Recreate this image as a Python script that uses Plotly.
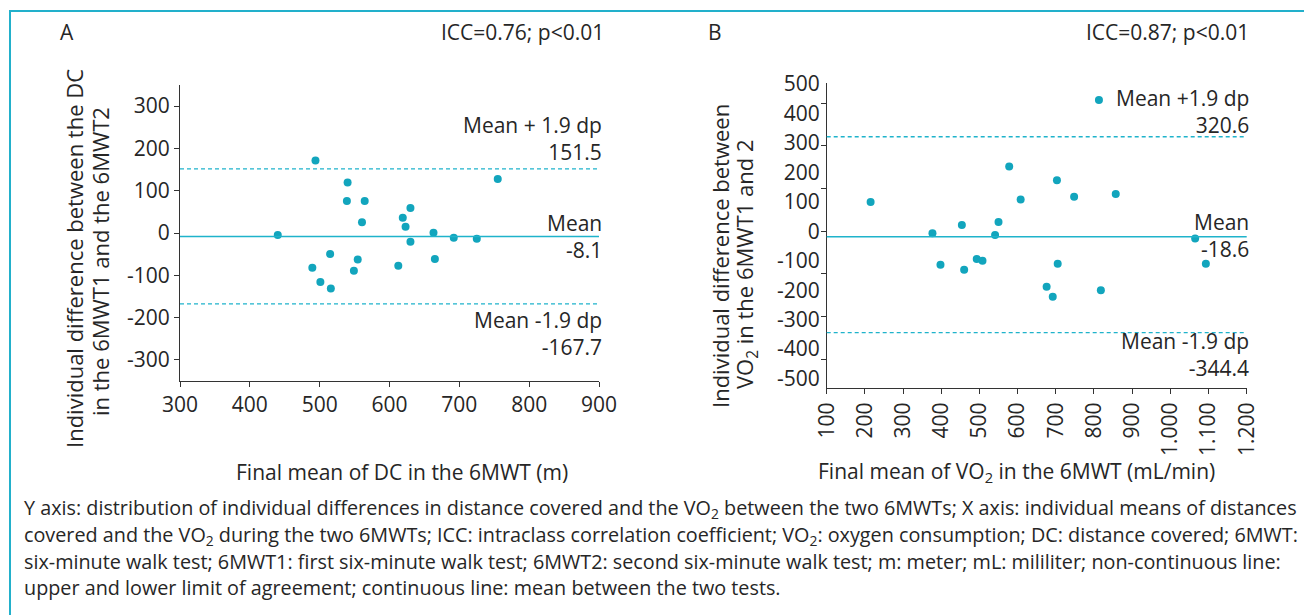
import plotly.graph_objects as go

W, H = 1312, 615
OFF = 8  # page body margin offset of the rendered figure
def px(x): return (x - OFF) / W
def py(y): return 1 - (y - OFF) / H

# ---------------- Data ----------------
# Panel A: distance covered (DC)
dc_mean = [494, 755, 540, 539, 564.5, 630, 619, 623, 560.6, 440, 663, 692, 725, 630,
           515, 554.5, 612.6, 665, 549, 489.5, 501, 516]
dc_diff = [171.5, 127.7, 119.7, 75.8, 75.8, 59.4, 35.8, 14.6, 25.5, -5, 0.4, -11.4, -13.7, -20.8,
           -49.8, -62.4, -77.3, -61.6, -89, -82, -115.8, -131.5]
dc_bias = -8.1
dc_upper = 151.5
dc_lower = -167.7

# Panel B: VO2
vo2_mean = [813, 215, 578, 703, 608, 748, 857, 454, 550, 377, 541, 1065, 398, 460,
            493, 508, 705, 1093, 676, 692, 818]
vo2_diff = [445, 99, 220, 173, 108, 117, 126, 21, 31, -7, -13, -25, -114, -131,
            -94, -100, -110, -110, -188, -222, -200]
vo2_bias = -18.6
vo2_upper = 320.6
vo2_lower = -344.4

a_xticks = [300, 400, 500, 600, 700, 800, 900]
a_yticks = [-300, -200, -100, 0, 100, 200, 300]
a_yticklabels = ["-300", "-200", "-100", "0", "100", "200", "300"]
b_xticks = [100, 200, 300, 400, 500, 600, 700, 800, 900, 1000, 1100, 1200]
b_xticklabels = ["100", "200", "300", "400", "500", "600", "700", "800", "900",
                 "1.000", "1.100", "1.200"]
b_yticks = [-500, -400, -300, -200, -100, 0, 100, 200, 300, 400, 500]
b_yticklabels = ["-500", "-400", "-300", "-200", "-100", "0", "100", "200", "300", "400", "500"]

# ---------------- Style ----------------
PT = "#12a5bd"
LN = "#1fb3cb"
TXT = "#262626"
AX = "#333333"
FONT = "Open Sans"
TICKFONT = dict(family=FONT, size=21, color=TXT)

fig = go.Figure()
fig.add_trace(go.Scatter(x=dc_mean, y=dc_diff, mode="markers", xaxis="x", yaxis="y",
                         marker=dict(color=PT, size=8), showlegend=False))
fig.add_trace(go.Scatter(x=vo2_mean, y=vo2_diff, mode="markers", xaxis="x2", yaxis="y2",
                         marker=dict(color=PT, size=8), showlegend=False))

axis_common = dict(showgrid=False, zeroline=False, showline=True, linecolor=AX, linewidth=1,
                   tickcolor=AX, ticklen=5, tickwidth=1, automargin=False,
                   tickfont=TICKFONT)

fig.update_layout(
    template="none",
    width=W, height=H,
    margin=dict(l=0, r=0, t=0, b=0, pad=0, autoexpand=False),
    paper_bgcolor="white", plot_bgcolor="white",
    showlegend=False,
    font=dict(family=FONT, color=TXT),
    xaxis=dict(domain=[px(180), px(599)], range=[300, 900], anchor="y",
               tickvals=a_xticks, ticks="outside", **axis_common),
    yaxis=dict(domain=[py(381), py(85)], range=[-350, 350], anchor="x",
               tickvals=a_yticks, ticktext=a_yticklabels, ticks="outside", **axis_common),
    xaxis2=dict(domain=[px(826.7), px(1246.7)], range=[100, 1200], anchor="y2",
                tickvals=b_xticks, ticktext=b_xticklabels, tickangle=-90,
                ticks="outside", **axis_common),
    yaxis2=dict(domain=[py(388), py(83)], range=[-532, 503], anchor="x2",
                tickmode="linear", tick0=0, dtick=145, ticks="outside",
                showticklabels=False, **axis_common),
    yaxis3=dict(range=[-532, 503], overlaying="y2", anchor="x2", side="left",
                tickvals=b_yticks, ticktext=b_yticklabels, ticks="", ticklabelstandoff=6,
                showgrid=False, zeroline=False, showline=False, automargin=False,
                tickfont=TICKFONT),
)
# invisible trace to activate the label axis of panel B
fig.add_trace(go.Scatter(x=[None], y=[None], xaxis="x2", yaxis="y3", showlegend=False,
                         hoverinfo="skip"))

shapes = []
for xr, yr, b, u, l in [("x", "y", dc_bias, dc_upper, dc_lower),
                        ("x2", "y2", vo2_bias, vo2_upper, vo2_lower)]:
    shapes.append(dict(type="line", xref=xr + " domain", yref=yr, x0=0, x1=1, y0=b, y1=b,
                       line=dict(color=LN, width=1.5)))
    for v in (u, l):
        shapes.append(dict(type="line", xref=xr + " domain", yref=yr, x0=0, x1=1, y0=v, y1=v,
                           line=dict(color=LN, width=1.3, dash="4px,3px")))
# outer frame (left and top)
shapes.append(dict(type="line", xref="paper", yref="paper", x0=px(10), x1=px(10),
                   y0=py(640), y1=py(11), line=dict(color="#22b0cb", width=2)))
shapes.append(dict(type="line", xref="paper", yref="paper", x0=px(9), x1=px(1330),
                   y0=py(11), y1=py(11), line=dict(color="#22b0cb", width=2)))
fig.update_layout(shapes=shapes)

ann = []
def T(x, y, text, size=21, xanchor="right", **kw):
    ann.append(dict(xref="paper", yref="paper", x=px(x), y=py(y), text=text, showarrow=False,
                    xanchor=xanchor, yanchor="middle", align=xanchor if xanchor != "center" else "center",
                    font=dict(family=FONT, size=size, color=TXT), **kw))

# headers
T(58, 32, "A", xanchor="left")
T(606, 32, "ICC=0.76; p<0.01")
T(706, 32, "B", xanchor="left")
T(1251, 32, "ICC=0.87; p<0.01")

# panel A labels
T(604, 138.5, f"Mean + 1.9 dp<br>{dc_upper}")
T(604, 236, f"Mean<br>{dc_bias}")
T(604, 333.5, f"Mean -1.9 dp<br>{dc_lower}")

# panel B labels
T(1251, 111, f"Mean +1.9 dp<br>{vo2_upper}")
T(1251, 235.5, f"Mean<br>{vo2_bias}")
T(1251, 354.5, f"Mean -1.9 dp<br>{vo2_lower}")

# axis titles
T(74, 259, "Individual difference between the DC", size=22, xanchor="center", textangle=-90)
T(100, 262, "in the 6MWT1 and the 6MWT2", size=22, xanchor="center", textangle=-90)
T(720, 256, "Individual difference between", size=22, xanchor="center", textangle=-90)
T(746, 264, "VO<sub>2</sub> in the 6MWT1 and 2", size=22, xanchor="center", textangle=-90)
T(402, 472, "Final mean of DC in the 6MWT (m)", xanchor="center")
T(1016, 472, "Final mean of VO<sub>2</sub> in the 6MWT (mL/min)", xanchor="center")

# caption
cap = [
    "Y axis: distribution of individual differences in distance covered and the VO<sub>2</sub> between the two 6MWTs; X axis: individual means of distances",
    "covered and the VO<sub>2</sub> during the two 6MWTs; ICC: intraclass correlation coefficient; VO<sub>2</sub>: oxygen consumption; DC: distance covered; 6MWT:",
    "six-minute walk test; 6MWT1: first six-minute walk test; 6MWT2: second six-minute walk test; m: meter; mL: mililiter; non-continuous line:",
    "upper and lower limit of agreement; continuous line: mean between the two tests.",
]
for i, line in enumerate(cap):
    ann.append(dict(xref="paper", yref="paper", x=px(22), y=py(509 + 26.3 * i), text=line,
                    showarrow=False, xanchor="left", yanchor="middle",
                    font=dict(family=FONT, size=19.8, color=TXT)))

fig.update_layout(annotations=ann)
fig.write_html("out.html")
